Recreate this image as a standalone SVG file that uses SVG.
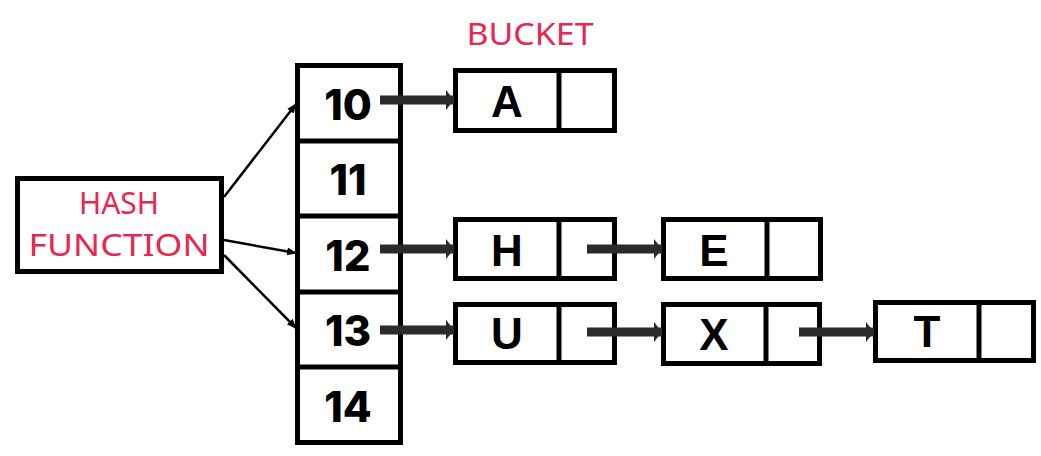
<svg xmlns="http://www.w3.org/2000/svg" width="1041" height="456" viewBox="0 0 1041 456">
<style>
.box{fill:#fff;stroke:#000;stroke-width:5}
.div{stroke:#000;stroke-width:5}
.red{fill:#e8264f;font-family:"Noto Sans","Open Sans",sans-serif;font-size:31px;text-anchor:middle}
.num{fill:#000;font-family:Inter,"Noto Sans",sans-serif;font-weight:800;font-size:42px;text-anchor:middle}
.let{fill:#000;font-family:"Liberation Sans",Arial,sans-serif;font-weight:bold;font-size:44px;text-anchor:middle}
.thin{stroke:#000;stroke-width:2.5;fill:none}
.thick{stroke:#2b2b2b;stroke-width:9;fill:none}
</style>
<defs>
<marker id="ah" viewBox="0 0 10 10" refX="9" refY="5" markerWidth="10" markerHeight="10" markerUnits="userSpaceOnUse" orient="auto"><path d="M0,1 L10,5 L0,9 z" fill="#000"/></marker>
<marker id="bh" viewBox="0 0 8 20" refX="8" refY="10" markerWidth="8" markerHeight="20" markerUnits="userSpaceOnUse" orient="auto"><path d="M0,0 L8,10 L0,20 z" fill="#2b2b2b"/></marker>
</defs>
<rect width="1041" height="456" fill="#fff"/>
<text class="red" x="530" y="45" textLength="127" lengthAdjust="spacingAndGlyphs">BUCKET</text>
<g id="hash">
<rect class="box" x="17.5" y="178.5" width="204" height="93"/>
<text class="red" x="119" y="214" textLength="80" lengthAdjust="spacingAndGlyphs">HASH</text>
<text class="red" x="119" y="256" textLength="181" lengthAdjust="spacingAndGlyphs">FUNCTION</text>
</g>
<g id="table">
<rect class="box" x="297.5" y="65.5" width="103" height="377"/>
<line class="div" x1="297" y1="141" x2="401" y2="141"/>
<line class="div" x1="297" y1="216" x2="401" y2="216"/>
<line class="div" x1="297" y1="292" x2="401" y2="292"/>
<line class="div" x1="297" y1="367" x2="401" y2="367"/>
<text class="num" x="348" y="120">10</text>
<text class="num" x="348" y="195">11</text>
<text class="num" x="348" y="271">12</text>
<text class="num" x="348" y="346">13</text>
<text class="num" x="348" y="422">14</text>
</g>
<g id="nodeA">
<rect class="box" x="455.5" y="70.5" width="159" height="60"/>
<line class="div" x1="559" y1="70" x2="559" y2="131"/>
<text class="let" x="507" y="117">A</text>
</g>
<g id="nodeH">
<rect class="box" x="455.5" y="219.5" width="159" height="59"/>
<line class="div" x1="559" y1="219" x2="559" y2="279"/>
<text class="let" x="507" y="266">H</text>
</g>
<g id="nodeE">
<rect class="box" x="663.5" y="219.5" width="157" height="59"/>
<line class="div" x1="767" y1="219" x2="767" y2="279"/>
<text class="let" x="714" y="266">E</text>
</g>
<g id="nodeU">
<rect class="box" x="455.5" y="304.5" width="159" height="58"/>
<line class="div" x1="559" y1="304" x2="559" y2="363"/>
<text class="let" x="507" y="349">U</text>
</g>
<g id="nodeX">
<rect class="box" x="663.5" y="304.5" width="156" height="59"/>
<line class="div" x1="766" y1="304" x2="766" y2="364"/>
<text class="let" x="714" y="350">X</text>
</g>
<g id="nodeT">
<rect class="box" x="875.5" y="302.5" width="158" height="58"/>
<line class="div" x1="979" y1="302" x2="979" y2="361"/>
<text class="let" x="927" y="347">T</text>
</g>
<g id="connectors">
<line class="thin" x1="224" y1="197" x2="296" y2="104" marker-end="url(#ah)"/>
<line class="thin" x1="224" y1="240" x2="296" y2="253" marker-end="url(#ah)"/>
<line class="thin" x1="224" y1="255" x2="296" y2="328" marker-end="url(#ah)"/>
<line class="thick" x1="380" y1="100" x2="454" y2="100" marker-end="url(#bh)"/>
<line class="thick" x1="380" y1="249" x2="454" y2="249" marker-end="url(#bh)"/>
<line class="thick" x1="380" y1="330" x2="454" y2="330" marker-end="url(#bh)"/>
<line class="thick" x1="587" y1="249" x2="662" y2="249" marker-end="url(#bh)"/>
<line class="thick" x1="587" y1="332" x2="662" y2="332" marker-end="url(#bh)"/>
<line class="thick" x1="799" y1="332" x2="874" y2="332" marker-end="url(#bh)"/>
</g>
</svg>
